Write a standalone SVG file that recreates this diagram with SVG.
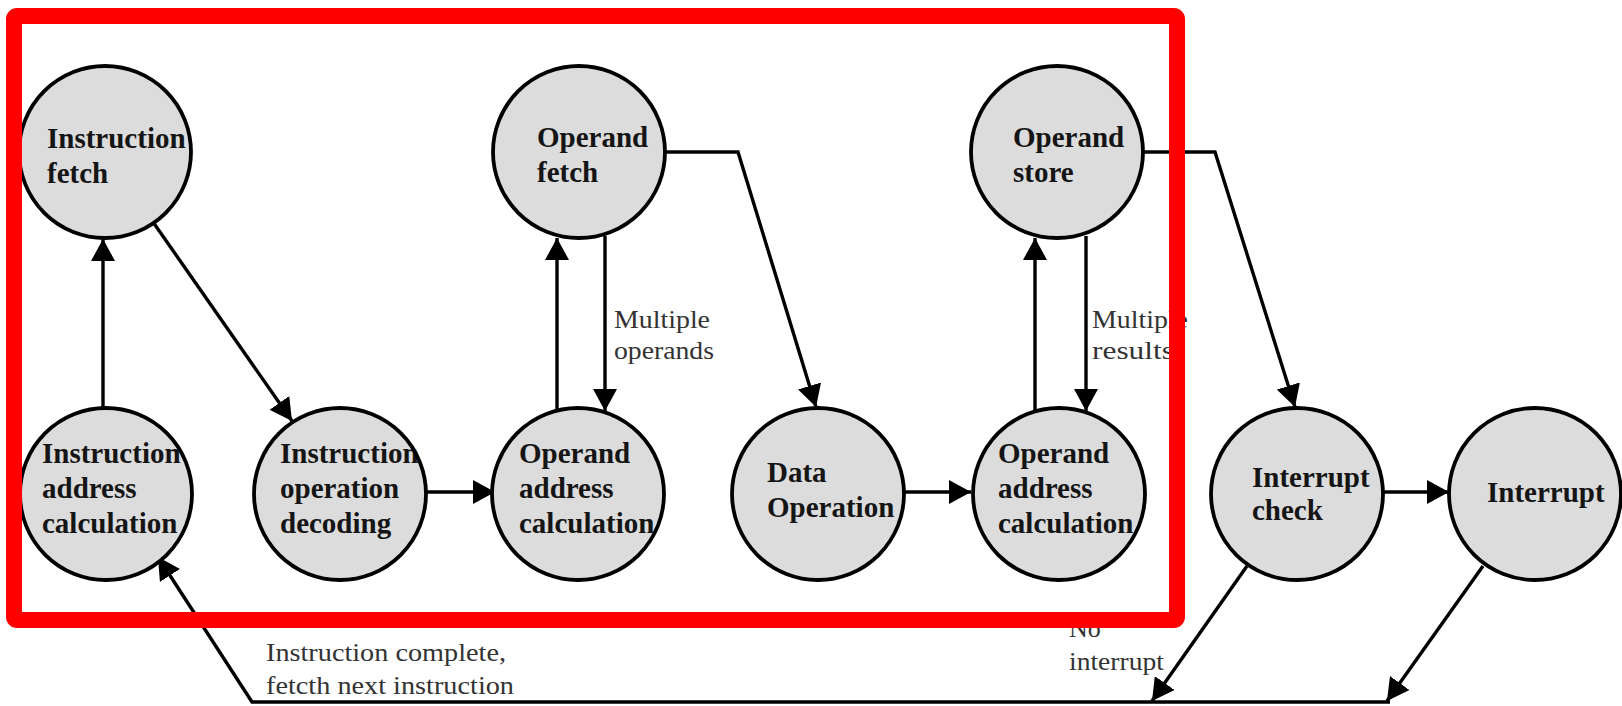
<svg xmlns="http://www.w3.org/2000/svg" width="1622" height="706" viewBox="0 0 1622 706">
<style>
.bg{fill:#dcdcdc;stroke:none}
.ol{fill:none;stroke:#000;stroke-width:3.8}
.nt{font-family:"Liberation Serif","Times New Roman",serif;font-weight:bold;font-size:29px;fill:#151515}
.lb{font-family:"Liberation Serif","Times New Roman",serif;font-size:26px;fill:#333}
.c{fill:none;stroke:#000;stroke-width:3.4}
</style>
<defs>
<marker id="ah" markerUnits="userSpaceOnUse" markerWidth="22" markerHeight="24" refX="22" refY="12" orient="auto">
<path d="M0,0 L22,12 L0,24 Z" fill="#000"/>
</marker>
</defs>
<rect width="1622" height="706" fill="#fff"/>
<g id="connectors">
<path class="c" d="M103,408 L103,239" marker-end="url(#ah)"/>
<path class="c" d="M153,222 L292,421" marker-end="url(#ah)"/>
<path class="c" d="M426,492 L495,492" marker-end="url(#ah)"/>
<path class="c" d="M557,410 L557,238" marker-end="url(#ah)"/>
<path class="c" d="M605,236 L605,411" marker-end="url(#ah)"/>
<path class="c" d="M665,152 L738,152 L816,407" marker-end="url(#ah)"/>
<path class="c" d="M905,492 L971,492" marker-end="url(#ah)"/>
<path class="c" d="M1035,410 L1035,238" marker-end="url(#ah)"/>
<path class="c" d="M1086,236 L1086,411" marker-end="url(#ah)"/>
<path class="c" d="M1143,152 L1215,152 L1295,407" marker-end="url(#ah)"/>
<path class="c" d="M1383,492 L1449,492" marker-end="url(#ah)"/>
<path class="c" d="M1247,566 L1152,701" marker-end="url(#ah)"/>
<path class="c" d="M1483,566 L1387,701" marker-end="url(#ah)"/>
<path class="c" d="M1390,702 L252,702 L158,557" marker-end="url(#ah)"/>
</g>
<g id="n-instruction-fetch">
<circle class="bg" cx="105" cy="152" r="86"/>
<text class="nt" x="47" y="148">Instruction</text>
<text class="nt" x="47" y="183">fetch</text>
<circle class="ol" cx="105" cy="152" r="86"/>
</g>
<g id="n-operand-fetch">
<circle class="bg" cx="579" cy="152" r="86"/>
<text class="nt" x="537" y="147">Operand</text>
<text class="nt" x="537" y="182">fetch</text>
<circle class="ol" cx="579" cy="152" r="86"/>
</g>
<g id="n-operand-store">
<circle class="bg" cx="1057" cy="152" r="86"/>
<text class="nt" x="1013" y="147">Operand</text>
<text class="nt" x="1013" y="182">store</text>
<circle class="ol" cx="1057" cy="152" r="86"/>
</g>
<g id="n-instruction-address-calculation">
<circle class="bg" cx="106" cy="494" r="86"/>
<text class="nt" x="42" y="463">Instruction</text>
<text class="nt" x="42" y="498">address</text>
<text class="nt" x="42" y="533">calculation</text>
<circle class="ol" cx="106" cy="494" r="86"/>
</g>
<g id="n-instruction-operation-decoding">
<circle class="bg" cx="340" cy="494" r="86"/>
<text class="nt" x="280" y="463">Instruction</text>
<text class="nt" x="280" y="498">operation</text>
<text class="nt" x="280" y="533">decoding</text>
<circle class="ol" cx="340" cy="494" r="86"/>
</g>
<g id="n-operand-address-calculation-1">
<circle class="bg" cx="578" cy="494" r="86"/>
<text class="nt" x="519" y="463">Operand</text>
<text class="nt" x="519" y="498">address</text>
<text class="nt" x="519" y="533">calculation</text>
<circle class="ol" cx="578" cy="494" r="86"/>
</g>
<g id="n-data-operation">
<circle class="bg" cx="818" cy="494" r="86"/>
<text class="nt" x="767" y="482">Data</text>
<text class="nt" x="767" y="517">Operation</text>
<circle class="ol" cx="818" cy="494" r="86"/>
</g>
<g id="n-operand-address-calculation-2">
<circle class="bg" cx="1059" cy="494" r="86"/>
<text class="nt" x="998" y="463">Operand</text>
<text class="nt" x="998" y="498">address</text>
<text class="nt" x="998" y="533">calculation</text>
<circle class="ol" cx="1059" cy="494" r="86"/>
</g>
<g id="n-interrupt-check">
<circle class="bg" cx="1297" cy="494" r="86"/>
<text class="nt" x="1252" y="487">Interrupt</text>
<text class="nt" x="1252" y="520">check</text>
<circle class="ol" cx="1297" cy="494" r="86"/>
</g>
<g id="n-interrupt">
<circle class="bg" cx="1535" cy="494" r="86"/>
<text class="nt" x="1487" y="502">Interrupt</text>
<circle class="ol" cx="1535" cy="494" r="86"/>
</g>
<g id="labels">
<text class="lb" x="614" y="328" textLength="96" lengthAdjust="spacingAndGlyphs">Multiple</text>
<text class="lb" x="614" y="359" textLength="100" lengthAdjust="spacingAndGlyphs">operands</text>
<text class="lb" x="1092" y="328" textLength="96" lengthAdjust="spacingAndGlyphs">Multiple</text>
<text class="lb" x="1092" y="359" textLength="82" lengthAdjust="spacingAndGlyphs">results</text>
<text class="lb" x="1069" y="637">No</text>
<text class="lb" x="1069" y="670" textLength="95" lengthAdjust="spacingAndGlyphs">interrupt</text>
<text class="lb" x="266" y="661" textLength="240" lengthAdjust="spacingAndGlyphs">Instruction complete,</text>
<text class="lb" x="266" y="694" textLength="248" lengthAdjust="spacingAndGlyphs">fetcth next instruction</text>
</g>
<rect id="highlight" x="14" y="16" width="1163" height="604" rx="3" fill="none" stroke="#ff0000" stroke-width="16"/>
</svg>
